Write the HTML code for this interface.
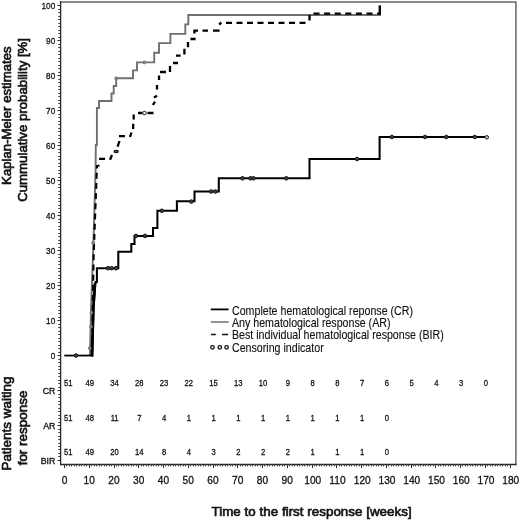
<!DOCTYPE html>
<html lang="en"><head><meta charset="utf-8"><title>Kaplan-Meier estimates</title>
<style>
html,body{margin:0;padding:0;background:#fff;}
body{width:520px;height:521px;overflow:hidden;}
svg{display:block;font-family:"Liberation Sans",sans-serif;fill:#111;}
.yt{font-size:9.4px;text-anchor:end;letter-spacing:0;stroke:#111;stroke-width:0.3px;}
.xt{font-size:11.3px;text-anchor:middle;letter-spacing:0;stroke:#111;stroke-width:0.3px;}
.n{font-size:9.8px;text-anchor:middle;letter-spacing:0;stroke:#111;stroke-width:0.3px;}
.ttl{font-size:13.33px;text-anchor:middle;stroke:#111;stroke-width:0.65px;}
.lg{font-size:11.9px;stroke:#111;stroke-width:0.12px;}
</style></head><body>
<svg width="520" height="521" viewBox="0 0 520 521">
<rect x="0" y="0" width="520" height="521" fill="#fff"/>
<g fill="none" stroke-linecap="butt">
<path d="M60.2 1.9H515.9V464.5" stroke="#666" stroke-width="1.5"/>
<path d="M60.6 1.2V464.5H516.6" stroke="#262626" stroke-width="1.3"/>
</g>
<path d="M57.4 460.50H60.3M57.4 425.50H60.3M57.4 390.50H60.3M57.4 355.50H60.3M57.4 320.50H60.3M57.4 285.50H60.3M57.4 250.50H60.3M57.4 215.50H60.3M57.4 180.50H60.3M57.4 145.50H60.3M57.4 110.50H60.3M57.4 75.50H60.3M57.4 40.50H60.3M57.4 5.50H60.3" stroke="#333" stroke-width="1" fill="none"/>
<path d="M58.2 456.50H60.3M58.2 453.50H60.3M58.2 449.50H60.3M58.2 446.50H60.3M58.2 443.50H60.3M58.2 439.50H60.3M58.2 436.50H60.3M58.2 432.50H60.3M58.2 429.50H60.3M58.2 422.50H60.3M58.2 418.50H60.3M58.2 415.50H60.3M58.2 411.50H60.3M58.2 408.50H60.3M58.2 404.50H60.3M58.2 401.50H60.3M58.2 397.50H60.3M58.2 394.50H60.3M58.2 387.50H60.3M58.2 383.50H60.3M58.2 380.50H60.3M58.2 376.50H60.3M58.2 373.50H60.3M58.2 369.50H60.3M58.2 366.50H60.3M58.2 362.50H60.3M58.2 359.50H60.3M58.2 352.50H60.3M58.2 348.50H60.3M58.2 345.50H60.3M58.2 341.50H60.3M58.2 338.50H60.3M58.2 334.50H60.3M58.2 331.50H60.3M58.2 327.50H60.3M58.2 324.50H60.3M58.2 317.50H60.3M58.2 313.50H60.3M58.2 310.50H60.3M58.2 306.50H60.3M58.2 303.50H60.3M58.2 299.50H60.3M58.2 296.50H60.3M58.2 292.50H60.3M58.2 289.50H60.3M58.2 282.50H60.3M58.2 278.50H60.3M58.2 275.50H60.3M58.2 271.50H60.3M58.2 268.50H60.3M58.2 264.50H60.3M58.2 261.50H60.3M58.2 257.50H60.3M58.2 254.50H60.3M58.2 247.50H60.3M58.2 243.50H60.3M58.2 240.50H60.3M58.2 236.50H60.3M58.2 233.50H60.3M58.2 229.50H60.3M58.2 226.50H60.3M58.2 222.50H60.3M58.2 219.50H60.3M58.2 212.50H60.3M58.2 208.50H60.3M58.2 205.50H60.3M58.2 201.50H60.3M58.2 198.50H60.3M58.2 194.50H60.3M58.2 191.50H60.3M58.2 187.50H60.3M58.2 184.50H60.3M58.2 177.50H60.3M58.2 173.50H60.3M58.2 170.50H60.3M58.2 166.50H60.3M58.2 163.50H60.3M58.2 159.50H60.3M58.2 156.50H60.3M58.2 152.50H60.3M58.2 149.50H60.3M58.2 142.50H60.3M58.2 138.50H60.3M58.2 135.50H60.3M58.2 131.50H60.3M58.2 128.50H60.3M58.2 124.50H60.3M58.2 121.50H60.3M58.2 117.50H60.3M58.2 114.50H60.3M58.2 107.50H60.3M58.2 103.50H60.3M58.2 100.50H60.3M58.2 96.50H60.3M58.2 93.50H60.3M58.2 89.50H60.3M58.2 86.50H60.3M58.2 82.50H60.3M58.2 79.50H60.3M58.2 72.50H60.3M58.2 68.50H60.3M58.2 65.50H60.3M58.2 61.50H60.3M58.2 58.50H60.3M58.2 54.50H60.3M58.2 51.50H60.3M58.2 47.50H60.3M58.2 44.50H60.3M58.2 37.50H60.3M58.2 33.50H60.3M58.2 30.50H60.3M58.2 26.50H60.3M58.2 23.50H60.3M58.2 19.50H60.3M58.2 16.50H60.3M58.2 12.50H60.3M58.2 9.50H60.3" stroke="#444" stroke-width="1" fill="none"/>
<path d="M64.50 464.5V468.1M89.50 464.5V468.1M114.50 464.5V468.1M138.50 464.5V468.1M163.50 464.5V468.1M188.50 464.5V468.1M213.50 464.5V468.1M237.50 464.5V468.1M262.50 464.5V468.1M287.50 464.5V468.1M312.50 464.5V468.1M336.50 464.5V468.1M361.50 464.5V468.1M386.50 464.5V468.1M411.50 464.5V468.1M435.50 464.5V468.1M460.50 464.5V468.1M485.50 464.5V468.1M510.50 464.5V468.1" stroke="#333" stroke-width="1" fill="none"/>
<path d="M66.50 464.5V466.4M69.50 464.5V466.4M71.50 464.5V466.4M74.50 464.5V466.4M76.50 464.5V466.4M79.50 464.5V466.4M81.50 464.5V466.4M84.50 464.5V466.4M86.50 464.5V466.4M91.50 464.5V466.4M94.50 464.5V466.4M96.50 464.5V466.4M99.50 464.5V466.4M101.50 464.5V466.4M104.50 464.5V466.4M106.50 464.5V466.4M109.50 464.5V466.4M111.50 464.5V466.4M116.50 464.5V466.4M118.50 464.5V466.4M121.50 464.5V466.4M123.50 464.5V466.4M126.50 464.5V466.4M128.50 464.5V466.4M131.50 464.5V466.4M133.50 464.5V466.4M136.50 464.5V466.4M141.50 464.5V466.4M143.50 464.5V466.4M146.50 464.5V466.4M148.50 464.5V466.4M151.50 464.5V466.4M153.50 464.5V466.4M156.50 464.5V466.4M158.50 464.5V466.4M161.50 464.5V466.4M165.50 464.5V466.4M168.50 464.5V466.4M170.50 464.5V466.4M173.50 464.5V466.4M175.50 464.5V466.4M178.50 464.5V466.4M180.50 464.5V466.4M183.50 464.5V466.4M185.50 464.5V466.4M190.50 464.5V466.4M193.50 464.5V466.4M195.50 464.5V466.4M198.50 464.5V466.4M200.50 464.5V466.4M203.50 464.5V466.4M205.50 464.5V466.4M208.50 464.5V466.4M210.50 464.5V466.4M215.50 464.5V466.4M217.50 464.5V466.4M220.50 464.5V466.4M222.50 464.5V466.4M225.50 464.5V466.4M227.50 464.5V466.4M230.50 464.5V466.4M232.50 464.5V466.4M235.50 464.5V466.4M240.50 464.5V466.4M242.50 464.5V466.4M245.50 464.5V466.4M247.50 464.5V466.4M250.50 464.5V466.4M252.50 464.5V466.4M255.50 464.5V466.4M257.50 464.5V466.4M260.50 464.5V466.4M264.50 464.5V466.4M267.50 464.5V466.4M269.50 464.5V466.4M272.50 464.5V466.4M274.50 464.5V466.4M277.50 464.5V466.4M279.50 464.5V466.4M282.50 464.5V466.4M284.50 464.5V466.4M289.50 464.5V466.4M292.50 464.5V466.4M294.50 464.5V466.4M297.50 464.5V466.4M299.50 464.5V466.4M302.50 464.5V466.4M304.50 464.5V466.4M307.50 464.5V466.4M309.50 464.5V466.4M314.50 464.5V466.4M316.50 464.5V466.4M319.50 464.5V466.4M321.50 464.5V466.4M324.50 464.5V466.4M326.50 464.5V466.4M329.50 464.5V466.4M331.50 464.5V466.4M334.50 464.5V466.4M339.50 464.5V466.4M341.50 464.5V466.4M344.50 464.5V466.4M346.50 464.5V466.4M349.50 464.5V466.4M351.50 464.5V466.4M354.50 464.5V466.4M356.50 464.5V466.4M359.50 464.5V466.4M363.50 464.5V466.4M366.50 464.5V466.4M368.50 464.5V466.4M371.50 464.5V466.4M373.50 464.5V466.4M376.50 464.5V466.4M378.50 464.5V466.4M381.50 464.5V466.4M383.50 464.5V466.4M388.50 464.5V466.4M391.50 464.5V466.4M393.50 464.5V466.4M396.50 464.5V466.4M398.50 464.5V466.4M401.50 464.5V466.4M403.50 464.5V466.4M406.50 464.5V466.4M408.50 464.5V466.4M413.50 464.5V466.4M415.50 464.5V466.4M418.50 464.5V466.4M420.50 464.5V466.4M423.50 464.5V466.4M425.50 464.5V466.4M428.50 464.5V466.4M430.50 464.5V466.4M433.50 464.5V466.4M438.50 464.5V466.4M440.50 464.5V466.4M443.50 464.5V466.4M445.50 464.5V466.4M448.50 464.5V466.4M450.50 464.5V466.4M453.50 464.5V466.4M455.50 464.5V466.4M458.50 464.5V466.4M462.50 464.5V466.4M465.50 464.5V466.4M467.50 464.5V466.4M470.50 464.5V466.4M472.50 464.5V466.4M475.50 464.5V466.4M477.50 464.5V466.4M480.50 464.5V466.4M482.50 464.5V466.4M487.50 464.5V466.4M490.50 464.5V466.4M492.50 464.5V466.4M495.50 464.5V466.4M497.50 464.5V466.4M500.50 464.5V466.4M502.50 464.5V466.4M505.50 464.5V466.4M507.50 464.5V466.4" stroke="#444" stroke-width="1" fill="none"/>
<g class="yt">
<text transform="translate(55.2 358.90) scale(0.87 1)">0</text>
<text transform="translate(55.2 323.92) scale(0.87 1)">10</text>
<text transform="translate(55.2 288.94) scale(0.87 1)">20</text>
<text transform="translate(55.2 253.96) scale(0.87 1)">30</text>
<text transform="translate(55.2 218.98) scale(0.87 1)">40</text>
<text transform="translate(55.2 184.00) scale(0.87 1)">50</text>
<text transform="translate(55.2 149.02) scale(0.87 1)">60</text>
<text transform="translate(55.2 114.04) scale(0.87 1)">70</text>
<text transform="translate(55.2 79.06) scale(0.87 1)">80</text>
<text transform="translate(55.2 44.08) scale(0.87 1)">90</text>
<text transform="translate(55.2 9.10) scale(0.87 1)">100</text>
<text x="55.4" y="394.28" style="font-size:8.8px;letter-spacing:0">CR</text>
<text x="55.4" y="429.26" style="font-size:8.8px;letter-spacing:0">AR</text>
<text x="55.4" y="464.24" style="font-size:8.8px;letter-spacing:0">BIR</text>
</g>
<g class="xt">
<text transform="translate(64.50 483.8) scale(0.9 1)">0</text>
<text transform="translate(89.25 483.8) scale(0.9 1)">10</text>
<text transform="translate(114.00 483.8) scale(0.9 1)">20</text>
<text transform="translate(138.75 483.8) scale(0.9 1)">30</text>
<text transform="translate(163.50 483.8) scale(0.9 1)">40</text>
<text transform="translate(188.25 483.8) scale(0.9 1)">50</text>
<text transform="translate(213.00 483.8) scale(0.9 1)">60</text>
<text transform="translate(237.75 483.8) scale(0.9 1)">70</text>
<text transform="translate(262.50 483.8) scale(0.9 1)">80</text>
<text transform="translate(287.25 483.8) scale(0.9 1)">90</text>
<text transform="translate(312.70 483.8) scale(0.9 1)">100</text>
<text transform="translate(337.45 483.8) scale(0.9 1)">110</text>
<text transform="translate(362.20 483.8) scale(0.9 1)">120</text>
<text transform="translate(386.95 483.8) scale(0.9 1)">130</text>
<text transform="translate(411.70 483.8) scale(0.9 1)">140</text>
<text transform="translate(436.45 483.8) scale(0.9 1)">150</text>
<text transform="translate(461.20 483.8) scale(0.9 1)">160</text>
<text transform="translate(485.95 483.8) scale(0.9 1)">170</text>
<text transform="translate(510.70 483.8) scale(0.9 1)">180</text>
</g>
<text class="ttl" transform="translate(10.9 115.65) rotate(-90)" style="font-size:13.2px">Kaplan-Meier estimates</text>
<text class="ttl" transform="translate(26.6 119.9) rotate(-90)" style="font-size:13.23px">Cummulative probability [%]</text>
<text class="ttl" transform="translate(10.9 423.5) rotate(-90)" style="font-size:13.45px">Patients waiting</text>
<text class="ttl" transform="translate(26.6 428) rotate(-90)" style="font-size:13.45px">for response</text>
<text class="ttl" x="311.6" y="515.9" style="letter-spacing:0.04px">Time to the first response [weeks]</text>
<g fill="none" stroke-linejoin="miter">
<path d="M89.9 355.5 L91.1 307 L92.9 258 L95.6 170 L95.8 145 L96.9 145 L96.9 108 L99 108 L99 101 L111.5 101 L111.5 93.5 L113.7 93.5 L113.7 86 L116.2 86 L116.2 78.3 L133 78.3 L133 70.4 L137 70.4 L137 62.4 L154.2 62.4 L154.2 52.8 L159 52.8 L159 43.1 L170.4 43.1 L170.4 33.9 L185.3 33.9 L185.3 24.4 L188.3 24.4 L188.3 15 L379.8 15 L379.8 5.5" stroke="#6f6f6f" stroke-width="1.9"/>
<path d="M92.3 356.4 L93.7 307 L95.5 282 L96.9 282 L96.9 268.2 L118.3 268.2 L118.3 251.7 L131.3 251.7 L131.3 243.9 L134.5 243.9 L134.5 235.9 L153 235.9 L153 228 L157.4 228 L157.4 210.8 L176.9 210.8 L176.9 201.3 L194.5 201.3 L194.5 191.5 L218.8 191.5 L218.8 178.3 L309.5 178.3 L309.5 159 L379.6 159 L379.6 137 L485 137" stroke="#000" stroke-width="2.05"/>
<path d="M91.9 356.4L93.3 307L95 283" stroke="#000" stroke-width="2.6"/>
<path d="M64.3 355.55H93.2" stroke="#000" stroke-width="1.8"/>
<path d="M99.5 165.4L97 166L93.6 257L92 355.5" stroke="#000" stroke-width="2.1" stroke-dasharray="6 4.2" stroke-dashoffset="0.9"/>
<path d="M99 158.8H105M110 159.8L112 155M113.8 151.5H118.6M117.6 146.6L119.5 141M119 136.2H125M130 137L131.5 132.5M133.2 129V123.8M133.7 119.4V114.4M138 113H142.3M147.5 113H153.5M152.9 105L155 101.7M154 97.4L157 95.7M157 89.6V85M159 80V75.5M160 72H166M170 72V66M173 63H178M176 55.6H180.6M184.4 54.4V48.7M188 47.3V42M190.5 39H195.6M194.4 33.6V30.6H198M202.5 30.6H208M213 30.6H219.6M219.2 24.6L221.3 22.4M309.5 20.5V15M379.8 15V5.5" stroke="#000" stroke-width="2.3"/>
<path d="M226 22.9H309.5" stroke="#000" stroke-width="2.1" stroke-dasharray="6 4.5"/>
<path d="M313.5 13.6H380.8" stroke="#000" stroke-width="2.1" stroke-dasharray="6 4.6"/>
</g>
<g stroke-width="1">
<circle cx="76" cy="355.5" r="1.8" stroke="#111" fill="#444"/>
<circle cx="108" cy="268.2" r="1.8" stroke="#111" fill="#444"/>
<circle cx="111.6" cy="268.2" r="1.8" stroke="#111" fill="#444"/>
<circle cx="116" cy="268.2" r="1.8" stroke="#111" fill="#444"/>
<circle cx="136" cy="235.9" r="1.8" stroke="#111" fill="#444"/>
<circle cx="145" cy="235.9" r="1.8" stroke="#111" fill="#444"/>
<circle cx="161.8" cy="210.8" r="1.8" stroke="#111" fill="#444"/>
<circle cx="191.4" cy="201.6" r="1.8" stroke="#111" fill="#444"/>
<circle cx="211.3" cy="191.5" r="1.8" stroke="#111" fill="#444"/>
<circle cx="215.5" cy="191.5" r="1.8" stroke="#111" fill="#444"/>
<circle cx="242.5" cy="178.3" r="1.8" stroke="#111" fill="#444"/>
<circle cx="250.4" cy="178.3" r="1.8" stroke="#111" fill="#444"/>
<circle cx="253.4" cy="178.3" r="1.8" stroke="#111" fill="#444"/>
<circle cx="286.3" cy="178.3" r="1.8" stroke="#111" fill="#444"/>
<circle cx="357" cy="159" r="1.8" stroke="#111" fill="#444"/>
<circle cx="391.9" cy="137" r="1.8" stroke="#111" fill="#444"/>
<circle cx="425" cy="137" r="1.8" stroke="#111" fill="#444"/>
<circle cx="446.3" cy="137" r="1.8" stroke="#111" fill="#444"/>
<circle cx="474.8" cy="137" r="1.8" stroke="#111" fill="#444"/>
<circle cx="486.8" cy="137.3" r="1.8" stroke="#222" fill="#bbb"/>
<circle cx="116.2" cy="78.3" r="1.4" stroke="#666" fill="#999"/>
<circle cx="144.4" cy="62.4" r="1.4" stroke="#666" fill="#999"/>
<circle cx="89.8" cy="348.2" r="1.4" stroke="#666" fill="#999"/>
<circle cx="91" cy="326.7" r="1.4" stroke="#666" fill="#999"/>
<circle cx="91.4" cy="312.6" r="1.4" stroke="#666" fill="#999"/>
<circle cx="93.2" cy="243" r="1.4" stroke="#666" fill="#999"/>
<circle cx="144.5" cy="113" r="1.75" stroke="#111" fill="#fff"/>
<circle cx="116.2" cy="151.5" r="1.3" stroke="#000" fill="#777"/>
</g>
<g fill="none">
<path d="M210.8 309.4H228.6" stroke="#000" stroke-width="1.8"/>
<path d="M210.8 322H228.6" stroke="#6f6f6f" stroke-width="1.5"/>
<path d="M211 334.5H215.8M222 334.5H228.2" stroke="#111" stroke-width="1.4"/>
<circle cx="212.5" cy="347.3" r="1.75" stroke="#111" stroke-width="1.3"/>
<circle cx="219.8" cy="347.3" r="1.75" stroke="#111" stroke-width="1.3"/>
<circle cx="226.6" cy="347.3" r="1.75" stroke="#111" stroke-width="1.3"/>
</g>
<g class="lg">
<text x="232" y="314.55" transform="translate(232 0) scale(0.895 1) translate(-232 0)">Complete hematological reponse (CR)</text>
<text x="232" y="326.92" transform="translate(232 0) scale(0.895 1) translate(-232 0)">Any hematological response (AR)</text>
<text x="232" y="339.29" transform="translate(232 0) scale(0.895 1) translate(-232 0)">Best individual hematological response (BIR)</text>
<text x="232" y="351.66" transform="translate(232 0) scale(0.895 1) translate(-232 0)">Censoring indicator</text>
</g>
<g class="n">
<text transform="translate(68.30 385.80) scale(0.78 1)">51</text>
<text transform="translate(89.85 385.80) scale(0.78 1)">49</text>
<text transform="translate(114.60 385.80) scale(0.78 1)">34</text>
<text transform="translate(139.35 385.80) scale(0.78 1)">28</text>
<text transform="translate(164.10 385.80) scale(0.78 1)">23</text>
<text transform="translate(188.85 385.80) scale(0.78 1)">22</text>
<text transform="translate(213.60 385.80) scale(0.78 1)">15</text>
<text transform="translate(238.35 385.80) scale(0.78 1)">13</text>
<text transform="translate(263.10 385.80) scale(0.78 1)">10</text>
<text transform="translate(287.85 385.80) scale(0.78 1)">9</text>
<text transform="translate(312.60 385.80) scale(0.78 1)">8</text>
<text transform="translate(337.35 385.80) scale(0.78 1)">8</text>
<text transform="translate(362.10 385.80) scale(0.78 1)">7</text>
<text transform="translate(386.85 385.80) scale(0.78 1)">6</text>
<text transform="translate(411.60 385.80) scale(0.78 1)">5</text>
<text transform="translate(436.35 385.80) scale(0.78 1)">4</text>
<text transform="translate(461.10 385.80) scale(0.78 1)">3</text>
<text transform="translate(485.85 385.80) scale(0.78 1)">0</text>
<text transform="translate(68.30 421.10) scale(0.78 1)">51</text>
<text transform="translate(89.85 421.10) scale(0.78 1)">48</text>
<text transform="translate(114.60 421.10) scale(0.78 1)">11</text>
<text transform="translate(139.35 421.10) scale(0.78 1)">7</text>
<text transform="translate(164.10 421.10) scale(0.78 1)">4</text>
<text transform="translate(188.85 421.10) scale(0.78 1)">1</text>
<text transform="translate(213.60 421.10) scale(0.78 1)">1</text>
<text transform="translate(238.35 421.10) scale(0.78 1)">1</text>
<text transform="translate(263.10 421.10) scale(0.78 1)">1</text>
<text transform="translate(287.85 421.10) scale(0.78 1)">1</text>
<text transform="translate(312.60 421.10) scale(0.78 1)">1</text>
<text transform="translate(337.35 421.10) scale(0.78 1)">1</text>
<text transform="translate(362.10 421.10) scale(0.78 1)">1</text>
<text transform="translate(386.85 421.10) scale(0.78 1)">0</text>
<text transform="translate(68.30 455.10) scale(0.78 1)">51</text>
<text transform="translate(89.85 455.10) scale(0.78 1)">49</text>
<text transform="translate(114.60 455.10) scale(0.78 1)">20</text>
<text transform="translate(139.35 455.10) scale(0.78 1)">14</text>
<text transform="translate(164.10 455.10) scale(0.78 1)">8</text>
<text transform="translate(188.85 455.10) scale(0.78 1)">4</text>
<text transform="translate(213.60 455.10) scale(0.78 1)">3</text>
<text transform="translate(238.35 455.10) scale(0.78 1)">2</text>
<text transform="translate(263.10 455.10) scale(0.78 1)">2</text>
<text transform="translate(287.85 455.10) scale(0.78 1)">2</text>
<text transform="translate(312.60 455.10) scale(0.78 1)">1</text>
<text transform="translate(337.35 455.10) scale(0.78 1)">1</text>
<text transform="translate(362.10 455.10) scale(0.78 1)">1</text>
<text transform="translate(386.85 455.10) scale(0.78 1)">0</text>
</g>
</svg>
</body></html>
